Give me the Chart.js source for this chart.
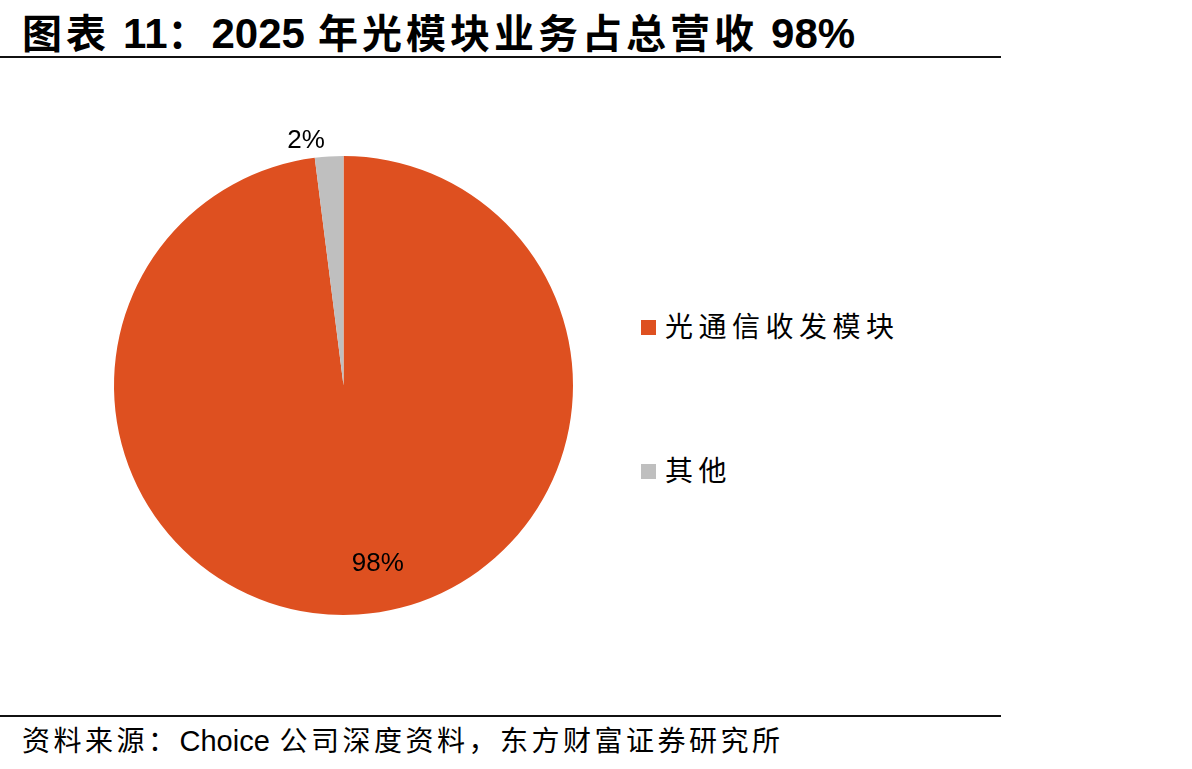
<!DOCTYPE html>
<html>
<head>
<meta charset="utf-8">
<script src="https://cdn.jsdelivr.net/npm/chart.js@4.4.1/dist/chart.umd.min.js"></script>
<style>
  html, body { margin: 0; padding: 0; background: #fff; }
  body { width: 1192px; height: 769px; position: relative; overflow: hidden; font-family: "Noto Sans CJK SC", sans-serif; }
  .title { position: absolute; left: 22px; top: 2px; font-size: 40px; font-weight: 700; letter-spacing: 4px; color: #000; white-space: nowrap; }
  .title .latin { font-family: "Liberation Sans Narrow", "Liberation Sans", sans-serif; font-size: 42px; letter-spacing: 0; }
  .rule { position: absolute; left: 0; width: 1001px; height: 2px; background: #111; }
  .source { position: absolute; left: 22px; top: 719px; font-size: 28px; letter-spacing: 3.5px; color: #000; white-space: nowrap; }
  .source .latin { font-family: "Liberation Sans", sans-serif; font-size: 29px; letter-spacing: 0; }
  #chartBox { position: absolute; left: 64px; top: 106px; width: 559px; height: 559px; }
  .legend { position: absolute; left: 641px; font-size: 28px; letter-spacing: 5.5px; color: #000; white-space: nowrap; }
  .legend i { display: inline-block; width: 15px; height: 15px; margin-right: 9px; vertical-align: 2px; }
</style>
</head>
<body>
<div class="title">图表 <span class="latin">11</span>：<span class="latin">2025</span> 年光模块业务占总营收 <span class="latin">98%</span></div>
<div class="rule" style="top:56px"></div>
<div id="chartBox"><canvas id="pie"></canvas></div>
<div id="legend"></div>
<div class="rule" style="top:715px"></div>
<div class="source">资料来源：<span class="latin">Choice</span> 公司深度资料，东方财富证券研究所</div>

<script>
// data
const categories = ["光通信收发模块", "其他"];
const shares = [98, 2];
const labelText = ["98%", "2%"];
const colors = ["#DE5020", "#BFBFBF"];

// legend
const legendTops = [305, 449];
const legendEl = document.getElementById("legend");
categories.forEach((name, i) => {
  const d = document.createElement("div");
  d.className = "legend";
  d.style.top = legendTops[i] + "px";
  d.innerHTML = '<i style="background:' + colors[i] + '"></i>' + name;
  legendEl.appendChild(d);
});

// slice labels placed from arc geometry
const sliceLabels = {
  id: "sliceLabels",
  afterDatasetsDraw(chart, args, opts) {
    const ctx = chart.ctx;
    const arcs = chart.getDatasetMeta(0).data;
    ctx.save();
    ctx.font = opts.font;
    ctx.fillStyle = "#000";
    ctx.textAlign = "center";
    ctx.textBaseline = "middle";
    arcs.forEach((arc, i) => {
      const mid = (arc.startAngle + arc.endAngle) / 2;
      const r = arc.outerRadius * opts.radius[i];
      const x = arc.x + Math.cos(mid) * r + opts.dx[i];
      const y = arc.y + Math.sin(mid) * r;
      ctx.fillText(labelText[i], x, y);
    });
    ctx.restore();
  },
};

new Chart(document.getElementById("pie").getContext("2d"), {
  type: "pie",
  data: {
    labels: categories,
    datasets: [
      {
        data: shares,
        backgroundColor: colors,
        borderWidth: 0,
      },
    ],
  },
  options: {
    responsive: true,
    maintainAspectRatio: false,
    animation: false,
    layout: { padding: 50 },
    plugins: {
      legend: { display: false },
      tooltip: { enabled: false },
      sliceLabels: {
        font: '26px "Liberation Sans", sans-serif',
        radius: [0.78, 1.07],
        dx: [23, -22],
      },
    },
  },
  plugins: [sliceLabels],
});
</script>
</body>
</html>
